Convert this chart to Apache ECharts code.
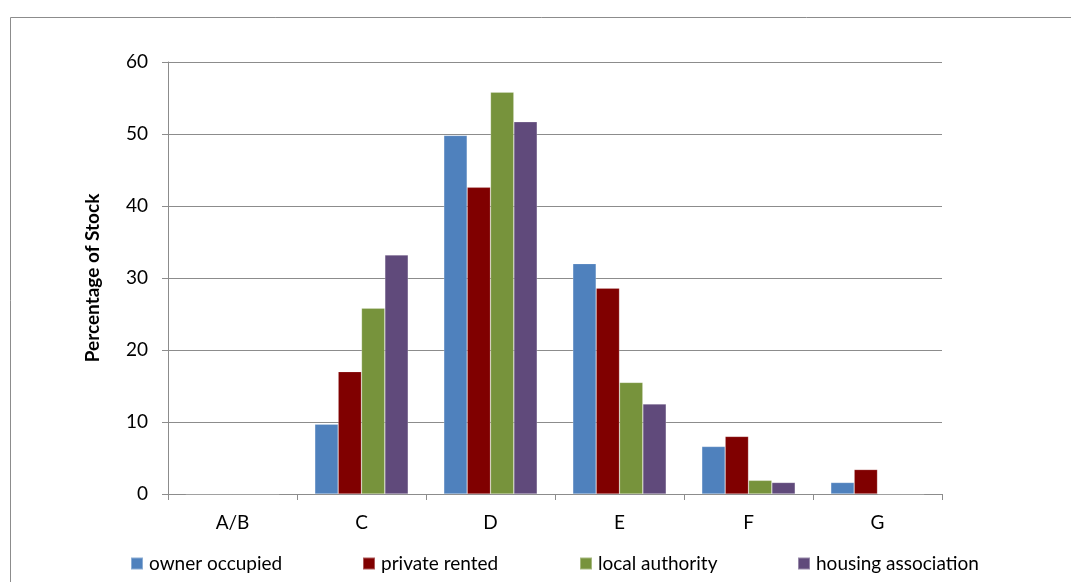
<!DOCTYPE html>
<html>
<head>
<meta charset="utf-8">
<script src="https://cdn.jsdelivr.net/npm/echarts@6/dist/echarts.min.js"></script>
<style>
html,body{margin:0;padding:0;background:#fff;}
#chart{width:1071px;height:582px;}
</style>
</head>
<body>
<div id="chart"></div>
<script>
var categories = ['A/B', 'C', 'D', 'E', 'F', 'G'];
var seriesNames = ['owner occupied', 'private rented', 'local authority', 'housing association'];
var ownerOccupied = [0, 9.7, 49.8, 32.0, 6.6, 1.6];
var privateRented = [0, 17.0, 42.6, 28.6, 8.0, 3.4];
var localAuthority = [0, 25.8, 55.8, 15.5, 1.9, 0];
var housingAssociation = [0, 33.2, 51.7, 12.5, 1.6, 0];
var yTicks = [0, 10, 20, 30, 40, 50, 60];

var colors = ['#4F81BD', '#800000', '#77933C', '#604A7B'];
var values = [ownerOccupied, privateRented, localAuthority, housingAssociation];
var legendLeft = [130, 362, 579, 797];
var font = 'Lato, "Open Sans", sans-serif';

var chart = echarts.init(document.getElementById('chart'));
var series = seriesNames.map(function (n, i) {
  return {
    name: n,
    type: 'bar',
    data: values[i],
    barGap: '0%',
    barCategoryGap: '27.6%',
    itemStyle: { color: colors[i], borderColor: 'rgba(255,255,255,0.35)', borderWidth: 0.6 },
    emphasis: { disabled: true }
  };
});
var legends = seriesNames.map(function (n, i) {
  return {
    data: [n],
    left: legendLeft[i],
    top: 554,
    itemWidth: 12,
    itemHeight: 12,
    itemGap: 0,
    padding: 0,
    icon: 'rect',
    textStyle: { fontFamily: font, fontSize: 19, color: '#000', padding: [0, 0, 0, 1] }
  };
});
chart.setOption({
  animation: false,
  backgroundColor: '#fff',
  color: colors,
  graphic: [{
    type: 'rect',
    shape: { x: 10.5, y: 17.5, width: 1200, height: 700 },
    style: { fill: 'none', stroke: '#8c8c8c', lineWidth: 1 },
    silent: true
  }],
  legend: legends,
  grid: { left: 168, right: 129, top: 62, bottom: 88, containLabel: false },
  xAxis: {
    type: 'category',
    data: categories,
    axisLine: { lineStyle: { color: '#8c8c8c', width: 1 } },
    axisTick: { show: true, length: 6, lineStyle: { color: '#8c8c8c' } },
    axisLabel: { fontFamily: font, fontSize: 19, color: '#000', margin: 19 }
  },
  yAxis: {
    type: 'value',
    min: 0,
    max: 60,
    interval: 10,
    name: 'Percentage of Stock',
    nameLocation: 'middle',
    nameGap: 66,
    nameTextStyle: { fontFamily: font, fontSize: 19, fontWeight: 'bold', color: '#000' },
    axisLine: { show: true, lineStyle: { color: '#8c8c8c', width: 1 } },
    axisTick: { show: true, length: 6, lineStyle: { color: '#8c8c8c' } },
    axisLabel: {
      fontFamily: font, fontSize: 19, color: '#000', margin: 20,
      formatter: function (v) { return yTicks.indexOf(v) >= 0 ? String(v) : ''; }
    },
    splitLine: { show: true, lineStyle: { color: '#8c8c8c', width: 1 } }
  },
  series: series
});
</script>
</body>
</html>
